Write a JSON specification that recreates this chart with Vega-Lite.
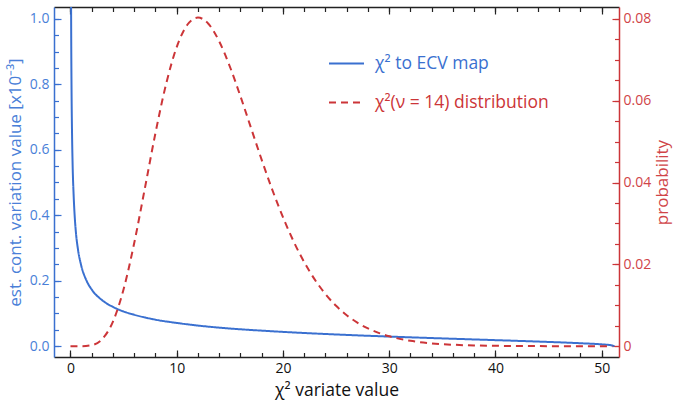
{
  "$schema": "https://vega.github.io/schema/vega-lite/v6.json",
  "width": 565,
  "height": 350,
  "autosize": {"type": "none"},
  "padding": {"left": 54, "top": 7, "right": 54, "bottom": 46},
  "background": "white",
  "config": {
    "view": {"stroke": null},
    "font": "Open Sans",
    "axis": {"grid": false, "labelFont": "Open Sans", "titleFont": "Open Sans", "labelFontSize": 14, "titleFontSize": 17, "titleFontWeight": "normal", "domainWidth": 1.5, "tickWidth": 1.2}
  },
  "datasets": {
    "ecv": [
      {"x": 0.05, "v": 1.118, "s": "χ² to ECV map"},
      {"x": 0.07, "v": 0.944, "s": "χ² to ECV map"},
      {"x": 0.1, "v": 0.79, "s": "χ² to ECV map"},
      {"x": 0.15, "v": 0.645, "s": "χ² to ECV map"},
      {"x": 0.2, "v": 0.558, "s": "χ² to ECV map"},
      {"x": 0.3, "v": 0.46, "s": "χ² to ECV map"},
      {"x": 0.4, "v": 0.396, "s": "χ² to ECV map"},
      {"x": 0.5, "v": 0.352, "s": "χ² to ECV map"},
      {"x": 0.7, "v": 0.297, "s": "χ² to ECV map"},
      {"x": 1, "v": 0.248, "s": "χ² to ECV map"},
      {"x": 1.5, "v": 0.201, "s": "χ² to ECV map"},
      {"x": 2, "v": 0.173, "s": "χ² to ECV map"},
      {"x": 3, "v": 0.14, "s": "χ² to ECV map"},
      {"x": 4, "v": 0.12, "s": "χ² to ECV map"},
      {"x": 5, "v": 0.106, "s": "χ² to ECV map"},
      {"x": 6, "v": 0.096, "s": "χ² to ECV map"},
      {"x": 8, "v": 0.081, "s": "χ² to ECV map"},
      {"x": 10, "v": 0.071, "s": "χ² to ECV map"},
      {"x": 12, "v": 0.063, "s": "χ² to ECV map"},
      {"x": 15, "v": 0.054, "s": "χ² to ECV map"},
      {"x": 18, "v": 0.0475, "s": "χ² to ECV map"},
      {"x": 20, "v": 0.0437, "s": "χ² to ECV map"},
      {"x": 25, "v": 0.0358, "s": "χ² to ECV map"},
      {"x": 30, "v": 0.0294, "s": "χ² to ECV map"},
      {"x": 35, "v": 0.0238, "s": "χ² to ECV map"},
      {"x": 40, "v": 0.0185, "s": "χ² to ECV map"},
      {"x": 45, "v": 0.013, "s": "χ² to ECV map"},
      {"x": 48, "v": 0.0091, "s": "χ² to ECV map"},
      {"x": 50, "v": 0.0056, "s": "χ² to ECV map"},
      {"x": 51, "v": 0.0022, "s": "χ² to ECV map"},
      {"x": 51.2, "v": 0, "s": "χ² to ECV map"}
    ],
    "pdf": [
      {"x": 0, "p": 0, "s": "χ²(ν = 14) distribution"},
      {"x": 1, "p": 0.0000066, "s": "χ²(ν = 14) distribution"},
      {"x": 2, "p": 0.000255, "s": "χ²(ν = 14) distribution"},
      {"x": 3, "p": 0.001765, "s": "χ²(ν = 14) distribution"},
      {"x": 4, "p": 0.006015, "s": "χ²(ν = 14) distribution"},
      {"x": 5, "p": 0.013917, "s": "χ²(ν = 14) distribution"},
      {"x": 6, "p": 0.025205, "s": "χ²(ν = 14) distribution"},
      {"x": 7, "p": 0.038549, "s": "χ²(ν = 14) distribution"},
      {"x": 8, "p": 0.052099, "s": "χ²(ν = 14) distribution"},
      {"x": 9, "p": 0.064061, "s": "χ²(ν = 14) distribution"},
      {"x": 10, "p": 0.073111, "s": "χ²(ν = 14) distribution"},
      {"x": 11, "p": 0.07856, "s": "χ²(ν = 14) distribution"},
      {"x": 12, "p": 0.080313, "s": "χ²(ν = 14) distribution"},
      {"x": 13, "p": 0.07874, "s": "χ²(ν = 14) distribution"},
      {"x": 14, "p": 0.074502, "s": "χ²(ν = 14) distribution"},
      {"x": 15, "p": 0.068358, "s": "χ²(ν = 14) distribution"},
      {"x": 16, "p": 0.061069, "s": "χ²(ν = 14) distribution"},
      {"x": 17, "p": 0.053291, "s": "χ²(ν = 14) distribution"},
      {"x": 18, "p": 0.045546, "s": "χ²(ν = 14) distribution"},
      {"x": 19, "p": 0.03821, "s": "χ²(ν = 14) distribution"},
      {"x": 20, "p": 0.031528, "s": "χ²(ν = 14) distribution"},
      {"x": 21, "p": 0.025626, "s": "χ²(ν = 14) distribution"},
      {"x": 22, "p": 0.020548, "s": "χ²(ν = 14) distribution"},
      {"x": 23, "p": 0.016272, "s": "χ²(ν = 14) distribution"},
      {"x": 24, "p": 0.012741, "s": "χ²(ν = 14) distribution"},
      {"x": 25, "p": 0.009872, "s": "χ²(ν = 14) distribution"},
      {"x": 26, "p": 0.007577, "s": "χ²(ν = 14) distribution"},
      {"x": 27, "p": 0.005763, "s": "χ²(ν = 14) distribution"},
      {"x": 28, "p": 0.004348, "s": "χ²(ν = 14) distribution"},
      {"x": 29, "p": 0.003255, "s": "χ²(ν = 14) distribution"},
      {"x": 30, "p": 0.00242, "s": "χ²(ν = 14) distribution"},
      {"x": 32, "p": 0.001311, "s": "χ²(ν = 14) distribution"},
      {"x": 34, "p": 0.000694, "s": "χ²(ν = 14) distribution"},
      {"x": 36, "p": 0.00036, "s": "χ²(ν = 14) distribution"},
      {"x": 38, "p": 0.000183, "s": "χ²(ν = 14) distribution"},
      {"x": 40, "p": 0.0000916, "s": "χ²(ν = 14) distribution"},
      {"x": 42, "p": 0.000045, "s": "χ²(ν = 14) distribution"},
      {"x": 45, "p": 0.0000152, "s": "χ²(ν = 14) distribution"},
      {"x": 48, "p": 0.000005, "s": "χ²(ν = 14) distribution"},
      {"x": 51, "p": 0.0000016, "s": "χ²(ν = 14) distribution"}
    ]
  },
  "layer": [
    {
      "data": {"name": "ecv"},
      "mark": {"type": "line", "strokeWidth": 2, "clip": true, "interpolate": "monotone"},
      "encoding": {
        "x": {"field": "x", "type": "quantitative", "scale": {"domain": [-1.55, 51.63], "nice": false, "zero": false},
          "axis": {"orient": "bottom", "values": [0, 10, 20, 30, 40, 50], "tickSize": -7, "labelPadding": 11, "domainColor": "#222222", "tickColor": "#222222", "labelColor": "#111111", "title": "χ² variate value", "titleColor": "#111111", "titleFontSize": 17.5, "titlePadding": 6}},
        "y": {"field": "v", "type": "quantitative", "scale": {"domain": [-0.033, 1.036], "nice": false, "zero": false},
          "axis": {"orient": "left", "values": [0, 0.2, 0.4, 0.6, 0.8, 1.0], "format": ".1f", "tickSize": -7, "labelPadding": 12, "domainColor": "#3a70d0", "tickColor": "#3a70d0", "labelColor": "#4a7fd8", "titleColor": "#4a7fd8", "title": "est. cont. variation value [x10⁻³]", "titlePadding": 5}},
        "color": {"field": "s", "type": "nominal",
          "scale": {"domain": ["χ² to ECV map", "χ²(ν = 14) distribution"], "range": ["#3a70d0", "#cc3538"]},
          "legend": {"orient": "none", "legendX": 274, "legendY": 38, "title": null, "symbolType": "stroke", "symbolSize": 1225, "symbolStrokeWidth": 2, "labelFontSize": 17.5, "labelFont": "Open Sans", "labelOffset": 10, "rowPadding": 12, "padding": 0, "labelLimit": 300,
            "encode": {"labels": {"update": {"fill": {"signal": "datum.value === 'χ² to ECV map' ? '#3a70d0' : '#cc3538'"}}}}}},
        "strokeDash": {"field": "s", "type": "nominal",
          "scale": {"domain": ["χ² to ECV map", "χ²(ν = 14) distribution"], "range": [[1, 0], [7, 5]]},
          "legend": {"orient": "none", "legendX": 274, "legendY": 38, "title": null, "symbolType": "stroke", "symbolSize": 1225, "symbolStrokeWidth": 2, "labelFontSize": 17.5, "labelFont": "Open Sans", "labelOffset": 10, "rowPadding": 12, "padding": 0, "labelLimit": 300,
            "encode": {"labels": {"update": {"fill": {"signal": "datum.value === 'χ² to ECV map' ? '#3a70d0' : '#cc3538'"}}}}}}
      }
    },
    {
      "data": {"name": "pdf"},
      "mark": {"type": "line", "strokeWidth": 2, "clip": true, "interpolate": "monotone"},
      "encoding": {
        "x": {"field": "x", "type": "quantitative", "scale": {"domain": [-1.55, 51.63], "nice": false, "zero": false},
          "axis": {"orient": "top", "values": [0, 10, 20, 30, 40, 50], "tickSize": -7, "labels": false, "domainColor": "#222222", "tickColor": "#222222", "title": null}},
        "y": {"field": "p", "type": "quantitative", "scale": {"domain": [-0.00264, 0.0829], "nice": false, "zero": false},
          "axis": {"orient": "right", "values": [0, 0.02, 0.04, 0.06, 0.08], "labelExpr": "datum.value === 0 ? '0' : format(datum.value, '.2f')", "tickSize": -7, "labelPadding": 11, "domainColor": "#cc3538", "tickColor": "#cc3538", "labelColor": "#d04448", "titleColor": "#d04448", "title": "probability", "titleAngle": 270, "titleBaseline": "top", "titlePadding": 4}},
        "color": {"field": "s", "type": "nominal"},
        "strokeDash": {"field": "s", "type": "nominal"}
      }
    },
    {
      "data": {"name": "ecv"},
      "mark": {"type": "line", "opacity": 0, "clip": true},
      "encoding": {
        "x": {"field": "x", "type": "quantitative", "scale": {"domain": [-1.55, 51.63], "nice": false, "zero": false},
          "axis": {"orient": "bottom", "values": [0, 2, 4, 6, 8, 10, 12, 14, 16, 18, 20, 22, 24, 26, 28, 30, 32, 34, 36, 38, 40, 42, 44, 46, 48, 50], "tickSize": -4.5, "labels": false, "domain": false, "tickColor": "#222222", "title": null}},
        "y": {"field": "v", "type": "quantitative", "scale": {"domain": [-0.033, 1.036], "nice": false, "zero": false},
          "axis": {"orient": "left", "values": [0, 0.05, 0.1, 0.15, 0.2, 0.25, 0.3, 0.35, 0.4, 0.45, 0.5, 0.55, 0.6, 0.65, 0.7, 0.75, 0.8, 0.85, 0.9, 0.95, 1.0], "tickSize": -4.5, "labels": false, "domain": false, "tickColor": "#3a70d0", "title": null}}
      }
    },
    {
      "data": {"name": "pdf"},
      "mark": {"type": "line", "opacity": 0, "clip": true},
      "encoding": {
        "x": {"field": "x", "type": "quantitative", "scale": {"domain": [-1.55, 51.63], "nice": false, "zero": false},
          "axis": {"orient": "top", "values": [0, 2, 4, 6, 8, 10, 12, 14, 16, 18, 20, 22, 24, 26, 28, 30, 32, 34, 36, 38, 40, 42, 44, 46, 48, 50], "tickSize": -4.5, "labels": false, "domain": false, "tickColor": "#222222", "title": null}},
        "y": {"field": "p", "type": "quantitative", "scale": {"domain": [-0.00264, 0.0829], "nice": false, "zero": false},
          "axis": {"orient": "right", "values": [0, 0.005, 0.01, 0.015, 0.02, 0.025, 0.03, 0.035, 0.04, 0.045, 0.05, 0.055, 0.06, 0.065, 0.07, 0.075, 0.08], "tickSize": -4.5, "labels": false, "domain": false, "tickColor": "#cc3538", "title": null}}
      }
    }
  ],
  "resolve": {"scale": {"x": "independent", "y": "independent"}, "axis": {"x": "independent", "y": "independent"}}
}
